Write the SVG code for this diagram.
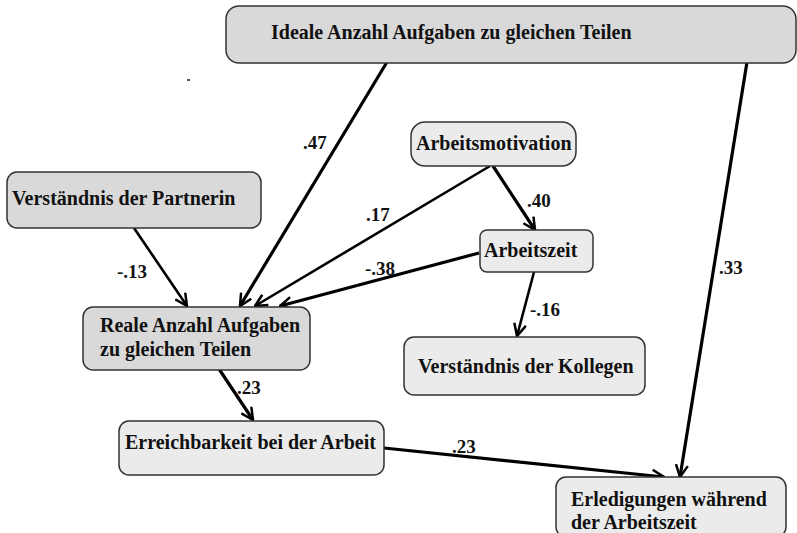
<svg xmlns="http://www.w3.org/2000/svg" width="797" height="533" viewBox="0 0 797 533">
<defs>
<style>
.box{stroke:#333;stroke-width:1.5}
.dark{fill:#d9d9d9}
.light{fill:#ebebeb}
text{font-family:"Liberation Serif","Times New Roman",serif;font-weight:bold;font-size:20px;fill:#111}
.lbl{font-size:19px}
.e{fill:none;stroke:#000;stroke-width:3.2}
.t{stroke-width:2.6}
</style>
<marker id="ah" viewBox="0 0 14 14" refX="13" refY="7" markerWidth="14" markerHeight="14" markerUnits="userSpaceOnUse" orient="auto">
<polyline points="1,1 13,7 1,13" fill="none" stroke="#000" stroke-width="2.5"/>
</marker>
</defs>
<rect x="187" y="79" width="3" height="2" fill="#555"/>
<g id="connectors">
<line class="e" x1="387" y1="62" x2="240" y2="306" marker-end="url(#ah)"/>
<line class="e" x1="747" y1="62" x2="680" y2="477" marker-end="url(#ah)"/>
<line class="e t" x1="134" y1="228" x2="187" y2="306" marker-end="url(#ah)"/>
<line class="e t" x1="490" y1="166" x2="255" y2="306" marker-end="url(#ah)"/>
<line class="e" x1="493" y1="166" x2="535" y2="230" marker-end="url(#ah)"/>
<line class="e" x1="479" y1="253" x2="280" y2="306" marker-end="url(#ah)"/>
<line class="e t" x1="534" y1="272" x2="517" y2="336" marker-end="url(#ah)"/>
<line class="e" x1="215" y1="363" x2="253" y2="420" marker-end="url(#ah)"/>
<line class="e" x1="384" y1="448" x2="664" y2="477" marker-end="url(#ah)"/>
<text class="lbl" x="303" y="149">.47</text>
<text class="lbl" x="719" y="274">.33</text>
<text class="lbl" x="117" y="278">-.13</text>
<text class="lbl" x="366" y="221">.17</text>
<text class="lbl" x="527" y="207">.40</text>
<text class="lbl" x="365" y="275">-.38</text>
<text class="lbl" x="530" y="316">-.16</text>
<text class="lbl" x="237" y="394">.23</text>
<text class="lbl" x="452" y="453">.23</text>
</g>
<g id="ideal">
<rect class="box dark" x="226" y="6" width="570" height="57" rx="13"/>
<text x="271" y="39">Ideale Anzahl Aufgaben zu gleichen Teilen</text>
</g>
<g id="partnerin">
<rect class="box dark" x="7" y="172" width="254" height="56" rx="10"/>
<text x="12" y="205">Verständnis der Partnerin</text>
</g>
<g id="motivation">
<rect class="box light" x="411" y="122" width="165" height="44" rx="14"/>
<text x="416" y="150">Arbeitsmotivation</text>
</g>
<g id="arbeitszeit">
<rect class="box light" x="480" y="230" width="113" height="42" rx="7"/>
<text x="484" y="257">Arbeitszeit</text>
</g>
<g id="reale">
<rect class="box dark" x="83" y="307" width="227" height="63" rx="10"/>
<text x="100" y="332">Reale Anzahl Aufgaben</text>
<text x="100" y="356">zu gleichen Teilen</text>
</g>
<g id="kollegen">
<rect class="box light" x="404" y="337" width="241" height="58" rx="10"/>
<text x="418" y="373">Verständnis der Kollegen</text>
</g>
<g id="erreichbarkeit">
<rect class="box light" x="119" y="421" width="265" height="54" rx="10"/>
<text x="125" y="449">Erreichbarkeit bei der Arbeit</text>
</g>
<g id="erledigungen">
<rect class="box light" x="556" y="477" width="230" height="60" rx="10"/>
<text x="571" y="506">Erledigungen während</text>
<text x="571" y="529">der Arbeitszeit</text>
</g>
</svg>
